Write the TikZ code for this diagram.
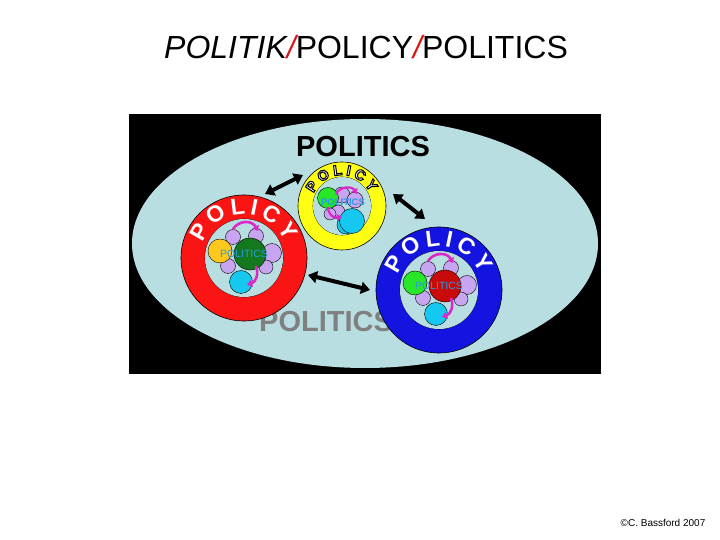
\documentclass[tikz,border=0pt]{standalone}
\usepackage{fontspec}
\setmainfont{Liberation Sans}
\newfontface\olfont[FakeBold=7]{Liberation Sans Bold}
\newcommand\blkstroke{\special{pdf:literal direct 0 0 0 RG}}
\usetikzlibrary{arrows.meta,decorations.text}
\definecolor{bgblue}{RGB}{185,222,226}
\definecolor{ringred}{RGB}{250,20,20}
\definecolor{ringyellow}{RGB}{255,255,20}
\definecolor{ringblue}{RGB}{20,20,225}
\definecolor{lav}{RGB}{200,165,240}
\definecolor{orangeC}{RGB}{255,200,30}
\definecolor{greenC}{RGB}{40,230,40}
\definecolor{dgreenC}{RGB}{20,120,30}
\definecolor{dredC}{RGB}{200,10,10}
\definecolor{cyanC}{RGB}{20,200,240}
\definecolor{magC}{RGB}{220,40,200}
\definecolor{txtC}{RGB}{40,155,225}
\definecolor{grayT}{RGB}{128,128,128}
\definecolor{slashR}{RGB}{220,20,20}
\newcommand\polbig{\bfseries\fontsize{23pt}{23pt}\selectfont}
\newcommand\polsmall{\fontsize{14.5pt}{14.5pt}\olfont\blkstroke}
\tikzset{
  cball/.style={draw=black, line width=0.4pt},
  ringstyle/.style={even odd rule, draw=black, line width=0.6pt},
  dbl/.style={line width=4pt, {Triangle[length=9pt,width=12pt]}-{Triangle[length=9pt,width=12pt]}},
  magarrow/.style={magC, line width=2.6pt, -{Triangle[length=5pt,width=7pt]}},
  smalltxt/.style={text=txtC, font=\fontsize{10.5pt}{10.5pt}\selectfont, inner sep=0pt},
  bigtxt/.style={font=\bfseries\fontsize{29pt}{29pt}\selectfont, inner sep=0pt}
}
% red/blue style cluster: #1 centre, #2 side colour, #3 big colour
\newcommand\mycluster[3]{%
  \begin{scope}[shift={(#1)}]
    \foreach \a/\b/\r in {-11/21/7.5, 12/22/7.5, 28/5/9.5, -16/-8/7.5, 22/-9/7}
      \filldraw[cball, fill=lav] (\a,\b) circle[radius=\r];
    \filldraw[cball, fill=#2] (-24,7) circle[radius=12];
    \filldraw[cball, fill=#3] (6,4) circle[radius=16];
    \filldraw[cball, fill=cyanC] (-3,-24) circle[radius=11.5];
    \node[smalltxt] at (0,4) {POLITICS};
    \draw[magarrow] (-11,29) .. controls (-5,38) and (8,38) .. (14,27);
    \draw[magarrow] (12,-8) .. controls (15,-16) and (12,-24) .. (3,-27);
  \end{scope}}
\newcommand\ringtext[6]{% centre, radius, font, colour, start, end
  \path[shift={(#1)}, decorate, decoration={text along path, text={|#3|POLICY}, text align={fit to path}, text color=#4}]
    (#5:#2) arc[start angle=#5, end angle=#6, radius=#2];}
\begin{document}
\begin{tikzpicture}[x=1pt,y=1pt]
\useasboundingbox (0,0) rectangle (720,540);
\fill[white] (0,0) rectangle (720,540);
% title
\node[inner sep=0pt] (title) at (366,493) {\fontsize{32pt}{32pt}\selectfont\itshape POLITIK\textcolor{slashR}{/}\upshape POLICY\textcolor{slashR}{\itshape /}POLITICS};
% panel
\fill[black] (129,166) rectangle (601,426);
\fill[bgblue] (365,296.5) ellipse[x radius=233, y radius=124.5];
\node[bigtxt] (top) at (363,393.5) {POLITICS};
\node[bigtxt, text=grayT, anchor=west] (low) at (259,218) {POLITICS};
% ring centres
\coordinate (rr) at (244,282);
\coordinate (yr) at (342,334);
\coordinate (br) at (439,250);
% red ring
\fill[ringred, ringstyle] (rr) circle[radius=63] (rr) circle[radius=39];
\fill[bgblue] (rr) circle[radius=39];
\ringtext{rr}{44}{\polbig}{white}{160}{22}
\mycluster{rr}{orangeC}{dgreenC}
% yellow ring
\fill[ringyellow, ringstyle] (yr) circle[radius=44] (yr) circle[radius=29];
\fill[bgblue] (yr) circle[radius=29];
\ringtext{yr}{31}{\polsmall}{white}{156}{26}
\begin{scope}[shift={(yr)}]
  \foreach \a/\b/\r in {0/11/8, 13/6/8, -4/-6/7, -12/-8/6}
    \filldraw[cball, fill=lav] (\a,\b) circle[radius=\r];
  \filldraw[cball, fill=greenC] (-14,8) circle[radius=10.5];
  \filldraw[cball, fill=cyanC] (4,-19) circle[radius=9];
  \filldraw[cball, fill=cyanC] (10,-15) circle[radius=12.5];
  \node[smalltxt, font=\bfseries\fontsize{9.5pt}{9.5pt}\selectfont] at (1,4) {POLITICS};
  \draw[magarrow, line width=2.2pt] (-6,12) .. controls (-2,20) and (10,20) .. (15,12);
  \draw[magarrow, line width=2.2pt] (-14,-1) .. controls (-14,-9) and (-8,-12) .. (0,-11);
\end{scope}
% blue ring
\fill[ringblue, ringstyle] (br) circle[radius=63] (br) circle[radius=39];
\fill[bgblue] (br) circle[radius=39];
\ringtext{br}{44}{\polbig}{white}{160}{22}
\mycluster{br}{greenC}{dredC}
% arrows
\coordinate (a1s) at (265,346); \coordinate (a1e) at (303,365);
\coordinate (a2s) at (393,346); \coordinate (a2e) at (425,321);
\coordinate (a3s) at (308,265); \coordinate (a3e) at (370,250);
\draw[dbl] (a1s) -- (a1e);
\draw[dbl] (a2s) -- (a2e);
\draw[dbl] (a3s) -- (a3e);
% copyright
\node[inner sep=0pt] (copy) at (663,17) {\fontsize{10pt}{10pt}\selectfont ©C. Bassford 2007};
\end{tikzpicture}
\end{document}
